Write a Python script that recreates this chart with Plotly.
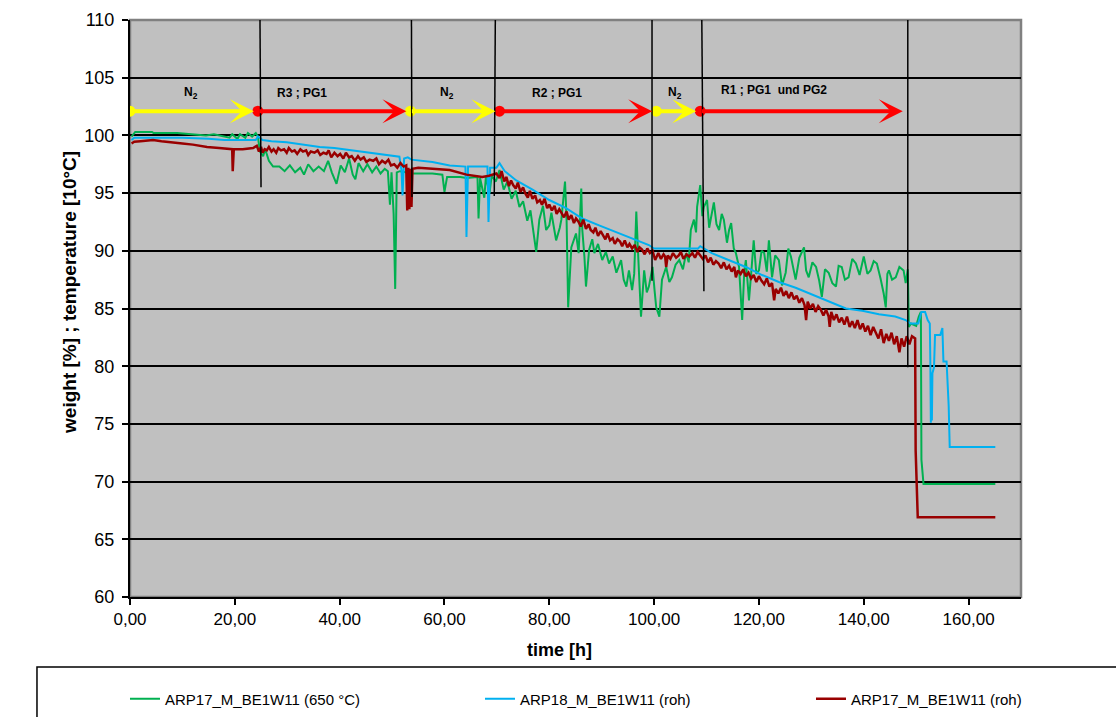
import plotly.graph_objects as go

# ---- measured series: time [h] and weight [%] ----
green_t = [0.3, 1.0, 4.2, 4.5, 9.0, 12.0, 14.5, 16.0, 18.0, 19.0, 19.5, 20.5, 21.0, 22.0, 22.5, 23.3, 24.0, 24.4,
           24.8, 25.4, 25.8, 26.5, 27.3, 28.5, 29.5, 30.5, 31.5, 32.5, 33.2, 34.0, 35.0, 36.0, 37.0, 37.8, 38.5,
           39.4, 40.2, 41.0, 41.8, 42.5, 43.0, 43.6, 44.5, 45.3, 46.2, 47.0, 47.8, 48.6, 49.2, 49.6, 49.9, 50.3,
           50.6, 50.9, 51.5, 53.0, 54.0, 57.7, 59.6, 60.0, 60.5, 63.0, 64.2, 66.3, 66.5, 66.8, 67.6, 67.9, 68.6,
           69.0, 69.8, 70.5, 71.3, 72.0, 72.8, 73.6, 74.3, 75.0, 75.8, 76.4, 77.0, 77.5, 78.1, 78.8, 79.4, 80.0,
           80.4, 81.3, 82.0, 82.3, 83.0, 83.3, 83.6, 84.2, 85.1, 85.6, 86.1, 86.3, 86.7, 87.0, 87.6, 88.2, 88.6,
           89.3, 90.1, 90.8, 91.4, 92.1, 92.8, 93.7, 94.2, 94.7, 95.2, 95.8, 96.2, 96.6, 97.0, 97.5, 98.1, 98.6,
           99.0, 99.7, 100.1, 100.4, 101.0, 101.5, 102.3, 102.9, 103.4, 104.1, 104.8, 105.5, 106.1, 106.6, 107.0,
           107.6, 108.0, 108.2, 108.8, 109.2, 109.5, 110.1, 110.5, 110.8, 111.4, 111.9, 112.4, 112.9, 113.3,
           113.9, 114.3, 114.7, 115.2, 115.6, 116.2, 116.8, 117.2, 117.5, 118.1, 118.6, 119.0, 119.5, 120.0,
           120.5, 121.0, 121.5, 121.9, 122.5, 123.1, 123.8, 124.4, 125.1, 125.6, 126.1, 126.6, 127.0, 127.7,
           128.6, 129.0, 129.5, 130.2, 130.9, 131.5, 132.0, 132.6, 133.3, 134.0, 134.7, 135.2, 135.8, 136.4,
           137.1, 137.8, 138.5, 139.2, 140.0, 140.7, 141.3, 141.9, 142.5, 143.2, 143.8, 144.2, 144.5, 144.8,
           145.4, 146.1, 146.8, 147.6, 148.0, 148.4, 148.6, 149.0, 150.0, 150.5, 150.9, 151.0, 151.4, 165.1]
green_v = [99.9, 100.3, 100.3, 100.2, 100.2, 100.1, 100.0, 100.1, 99.9, 99.8, 100.1, 99.7, 100.1, 99.8, 100.2, 99.9,
           100.2, 99.9, 98.6, 98.2, 98.8, 97.8, 97.3, 97.3, 96.9, 97.4, 96.8, 97.2, 96.6, 97.5, 96.9, 97.3, 96.9,
           97.8, 96.8, 95.8, 97.4, 96.8, 98.0, 96.6, 96.2, 97.6, 96.9, 97.5, 96.8, 97.3, 96.7, 97.1, 96.9, 94.0,
           96.8, 93.2, 86.7, 96.8, 96.9, 96.8, 96.7, 96.7, 96.6, 95.1, 96.4, 96.4, 96.3, 96.4, 92.8, 96.3, 94.6,
           96.4, 95.0, 96.5, 96.0, 97.0, 95.3, 96.0, 94.5, 95.2, 93.8, 94.3, 92.6, 93.5, 91.5, 89.9, 92.7, 93.9,
           91.8, 92.2, 93.3, 90.9, 92.0, 92.7, 96.0, 92.7, 85.1, 90.3, 91.5, 89.8, 95.4, 91.8, 89.5, 86.9, 90.1,
           91.0, 89.8, 90.6, 89.2, 89.9, 88.9, 89.5, 88.1, 89.2, 87.5, 86.9, 88.3, 86.6, 88.0, 93.4, 89.2, 84.3,
           88.3, 86.4, 86.9, 88.6, 86.5, 85.1, 84.3, 87.5, 88.6, 87.3, 87.7, 88.8, 89.2, 88.4, 89.8, 89.0, 91.8,
           92.7, 91.6, 93.8, 95.7, 93.0, 93.8, 94.4, 92.0, 92.7, 94.2, 92.3, 91.8, 93.2, 92.7, 90.7, 91.8, 92.4,
           90.2, 89.8, 88.6, 84.0, 88.2, 89.2, 85.7, 88.5, 90.9, 88.0, 88.3, 90.0, 89.8, 88.2, 90.9, 87.7, 89.6,
           89.2, 87.0, 88.1, 90.2, 89.5, 88.2, 87.5, 89.4, 90.3, 88.3, 87.7, 89.0, 88.6, 87.4, 86.0, 88.4, 88.1,
           87.2, 86.9, 88.7, 88.6, 87.5, 87.7, 89.3, 88.9, 87.9, 89.5, 88.0, 88.3, 89.1, 88.9, 87.6, 86.3, 85.1,
           88.0, 88.3, 87.5, 87.7, 88.6, 88.3, 87.2, 88.4, 83.4, 83.7, 83.5, 84.3, 84.7, 71.9, 69.8, 69.8]

blue_t = [0.3, 0.8, 5.0, 10.0, 15.0, 18.0, 24.0, 24.4, 25.3, 27.0, 29.9, 33.0, 36.2, 39.0, 42.5, 45.7, 49.0, 51.4,
          51.8, 52.0, 52.3, 53.0, 53.7, 55.5, 57.7, 61.0, 64.0, 64.2, 64.5, 67.2, 68.2, 68.4, 68.7, 69.9, 70.5,
          71.5, 73.7, 76.8, 80.0, 83.2, 86.3, 89.5, 92.8, 95.8, 99.0, 100.0, 108.4, 108.8, 109.5, 111.0, 114.2,
          117.5, 120.6, 123.8, 127.0, 130.1, 133.3, 136.6, 139.7, 142.9, 146.0, 148.0, 148.9, 150.4, 151.0,
          151.7, 152.2, 152.6, 152.7, 152.8, 152.9, 153.0, 153.1, 153.4, 153.6, 154.6, 155.0, 155.2, 155.8,
          156.2, 156.4, 165.1]
blue_v = [99.6, 99.8, 99.8, 99.8, 99.7, 99.6, 99.6, 99.9, 99.6, 99.5, 99.4, 99.2, 99.0, 98.9, 98.7, 98.5, 98.3, 98.15,
          97.0, 94.8, 98.0, 98.1, 97.9, 97.8, 97.7, 97.4, 97.3, 91.2, 97.3, 97.3, 97.3, 92.5, 97.2, 97.2, 97.6,
          96.9, 96.1, 95.3, 94.4, 93.7, 92.8, 92.2, 91.6, 91.1, 90.5, 90.2, 90.2, 90.4, 90.2, 89.8, 89.2, 88.6,
          87.9, 87.3, 86.8, 86.2, 85.6, 85.0, 84.8, 84.5, 84.3, 84.0, 83.7, 83.7, 84.7, 84.7, 84.0, 83.7, 80.5,
          75.1, 79.0, 75.3, 79.4, 79.9, 82.7, 82.7, 83.3, 80.4, 80.4, 76.6, 73.0, 73.0]

red_t = [0.3, 0.8, 2.0, 4.4, 6.0, 7.6, 10.0, 12.0, 14.7, 17.0, 19.0, 19.5, 19.6, 19.8, 21.5, 23.5,
         24.2, 24.6, 25.0, 25.3, 25.7, 26.1, 26.5, 27.0, 27.4, 27.9, 28.3, 28.8, 29.4, 29.9, 30.3, 30.9, 31.4,
         31.9, 32.5, 33.0, 33.6, 34.0, 34.5, 35.2, 35.8, 36.3, 36.9, 37.5, 37.9, 38.4, 39.0, 39.6, 40.1, 40.7,
         41.2, 41.8, 42.3, 42.9, 43.5, 44.0, 44.6, 45.1, 45.7, 46.4, 47.0, 47.5, 48.1, 48.7, 49.3, 49.8, 50.4,
         51.0, 51.6, 52.2, 52.7, 52.9, 53.1, 53.3, 53.5, 53.7, 53.9, 55.0, 57.7, 61.0, 64.2, 67.2, 68.5, 69.9,
         70.5, 70.9, 71.4, 71.8, 72.3, 72.7, 73.1, 73.6, 74.0, 74.5, 75.0, 75.4, 75.9, 76.3, 76.8, 77.3, 77.7,
         78.2, 78.6, 79.1, 79.6, 80.0, 80.5, 81.0, 81.4, 81.9, 82.3, 82.8, 83.3, 83.7, 84.2, 84.7, 85.1, 85.6,
         86.0, 86.5, 87.0, 87.5, 87.9, 88.4, 88.8, 89.3, 89.8, 90.2, 90.7, 91.1, 91.6, 92.1, 92.5, 93.0, 93.5,
         93.9, 94.4, 94.9, 95.3, 95.8, 96.3, 96.8, 97.2, 97.7, 98.2, 98.7, 99.2, 99.7, 100.2,
         100.8, 101.3, 101.8, 102.1, 102.3, 102.6, 103.1, 103.6, 104.2, 104.7, 105.1, 105.6, 106.2, 106.7,
         107.3, 107.8, 108.3, 108.8, 109.3, 109.8,
         110.3, 110.8, 111.3, 111.8, 112.3, 112.8, 113.3, 113.8, 114.3, 114.8, 115.3, 115.6, 116.0, 116.5,
         117.0, 117.5, 118.0, 118.5, 119.0, 119.5, 120.0, 120.5, 121.0, 121.5, 122.0, 122.5, 122.9, 123.2,
         123.7, 124.2, 124.7, 125.2, 125.7, 126.2, 126.7, 127.2, 127.7, 128.2, 128.7, 129.0, 129.3, 129.8,
         130.3, 130.8, 131.3, 131.8, 132.3, 132.8, 133.3, 133.5, 133.8, 134.3, 134.8, 135.3, 135.8, 136.3,
         136.8, 137.3, 137.8, 138.3, 138.8, 139.3, 139.8, 140.3, 140.8, 141.3, 141.8, 142.3, 142.8, 143.3,
         143.8, 144.3, 144.8, 145.3, 145.8, 146.3, 146.8, 147.2, 147.7, 148.2, 148.7, 149.2, 149.8, 149.9,
         150.3, 165.1]
red_v = [99.3, 99.45, 99.5, 99.6, 99.5, 99.4, 99.3, 99.2, 99.0, 98.9, 98.8, 98.8, 96.9, 98.8, 98.8, 98.9,
         99.1, 98.6, 99.0, 98.5, 98.8, 98.7, 99.0, 98.6, 98.8, 98.5, 98.9, 98.7, 98.8, 98.5, 98.9, 98.6, 98.7,
         98.4, 98.8, 98.6, 98.7, 98.3, 98.6, 98.5, 98.7, 98.3, 98.5, 98.4, 98.7, 98.1, 98.5, 98.2, 98.4, 98.0,
         98.5, 98.1, 98.2, 97.8, 98.2, 97.9, 98.1, 97.7, 97.9, 97.8, 98.0, 97.5, 97.8, 97.6, 97.9, 97.4, 97.5,
         97.2, 97.6, 97.3, 97.4, 93.5, 97.2, 93.6, 97.1, 93.8, 97.1, 97.2, 97.1, 97.0, 96.6, 96.4, 96.5, 96.7,
         96.3, 96.9, 96.0, 96.4, 95.6, 96.1, 95.7, 95.4, 95.9, 95.1, 95.5, 95.0, 94.6, 95.2, 94.5, 94.8, 94.2,
         94.4, 94.0, 94.5, 93.7, 94.0, 93.5, 93.9, 93.2, 93.6, 93.3, 92.9, 93.4, 92.7, 93.1, 92.4, 92.8, 92.5,
         92.1, 92.7, 91.9, 92.3, 91.8, 91.6, 92.0, 91.3, 91.7, 91.4, 91.0, 91.5, 90.9, 91.1, 90.6, 91.0, 90.8,
         90.4, 90.9, 90.3, 90.6, 90.2, 90.5, 89.9, 90.3, 90.1, 89.7, 90.2, 89.8, 90.0, 89.2,
         89.8, 89.3, 89.7, 89.5, 88.6, 89.6, 89.3, 89.8, 89.4, 89.6, 89.9, 89.3, 89.7, 89.5,
         89.8, 89.4, 89.9, 89.6, 89.3, 89.6,
         89.0, 89.4, 88.8, 89.1, 88.9, 88.5, 89.0, 88.4, 88.7, 88.2, 88.6, 87.7, 88.3, 88.0,
         88.4, 87.8, 88.1, 87.6, 87.9, 87.3, 87.8, 87.4, 87.1, 87.6, 86.9, 87.2, 85.7, 86.7,
         86.3, 86.8, 86.1, 86.5, 85.9, 86.4, 85.8, 86.1, 85.5, 85.9, 85.3, 84.0, 85.6, 85.0,
         85.4, 84.7, 85.2, 84.9, 84.4, 84.9, 84.3, 83.4, 84.7, 84.0, 84.5, 83.8, 84.2, 83.6,
         84.3, 83.4, 83.9, 83.3, 84.0, 83.2, 83.7, 83.0, 83.5, 82.7, 83.4, 82.9, 82.4, 83.2,
         82.0, 82.8, 82.2, 82.9, 81.9, 82.6, 81.2, 82.4, 81.7, 82.6, 81.9, 82.6, 82.4, 72.7,
         66.9, 66.9]

# ---- gas phases along the top ----
phase_start = [0.0, 24.4, 53.5, 70.5, 100.4, 108.8]
phase_end = [24.4, 53.5, 70.5, 100.4, 108.8, 148.2]
phase_color = ["#FFFF00", "#FF0000", "#FFFF00", "#FF0000", "#FFFF00", "#FF0000"]
phase_label = ["N<sub>2</sub>", "R3 ; PG1", "N<sub>2</sub>", "R2 ; PG1", "N<sub>2</sub>", "R1 ; PG1  und PG2"]
label_t = [11.7, 32.8, 60.5, 81.5, 104.0, 122.8]
label_v = [103.7, 103.7, 103.7, 103.7, 103.7, 103.9]
phase_level = 102.1

# phase change markers (top time, bottom time, bottom value)
switch_t_top = [24.8, 53.7, 69.7, 99.6, 109.1, 148.4]
switch_t_bot = [25.0, 53.8, 69.5, 99.6, 109.5, 148.4]
switch_v_bot = [95.5, 94.66, 94.75, 87.4, 86.5, 79.9]

x_ticks = [0, 20, 40, 60, 80, 100, 120, 140, 160]
x_tick_text = ["0,00", "20,00", "40,00", "60,00", "80,00", "100,00", "120,00", "140,00", "160,00"]
y_ticks = [60, 65, 70, 75, 80, 85, 90, 95, 100, 105, 110]

FONT = "Liberation Sans, Arial, sans-serif"

fig = go.Figure()

fig.add_trace(go.Scatter(x=green_t, y=green_v, mode="lines", name="ARP17_M_BE1W11 (650 °C)",
                         line=dict(color="#00B050", width=2), legend="legend"))
fig.add_trace(go.Scatter(x=blue_t, y=blue_v, mode="lines", name="ARP18_M_BE1W11 (roh)",
                         line=dict(color="#00B0F0", width=2), legend="legend2"))
fig.add_trace(go.Scatter(x=red_t, y=red_v, mode="lines", name="ARP17_M_BE1W11 (roh)",
                         line=dict(color="#990000", width=2.5), legend="legend3"))

# phase start dots
fig.add_trace(go.Scatter(x=phase_start, y=[phase_level] * len(phase_start), mode="markers",
                         marker=dict(color=phase_color, size=11, line=dict(width=0)),
                         showlegend=False, hoverinfo="skip"))

# phase arrows
for s, e, c in zip(phase_start, phase_end, phase_color):
    fig.add_annotation(x=e, y=phase_level, ax=s, ay=phase_level, xref="x", yref="y", axref="x", ayref="y",
                       text="", showarrow=True, arrowhead=3, arrowsize=1.0, arrowwidth=4, arrowcolor=c,
                       standoff=4)

for lab, t, v in zip(phase_label, label_t, label_v):
    fig.add_annotation(x=t, y=v, xref="x", yref="y", text="<b>" + lab + "</b>", showarrow=False,
                       font=dict(family=FONT, size=12, color="black"))

for t0, t1, v1 in zip(switch_t_top, switch_t_bot, switch_v_bot):
    fig.add_shape(type="line", xref="x", yref="y", x0=t0, y0=110, x1=t1, y1=v1,
                  line=dict(color="black", width=1.5), layer="above")

# axis titles
fig.add_annotation(x=0.4815, y=-0.0919, xref="paper", yref="paper", text="<b>time [h]</b>", showarrow=False,
                   font=dict(family=FONT, size=18, color="black"), xanchor="center", yanchor="middle")
fig.add_annotation(x=-0.0673, y=0.527, xref="paper", yref="paper", text="<b>weight [%] ; temperature [10°C]</b>",
                   showarrow=False, textangle=-90, font=dict(family=FONT, size=19, color="black"),
                   xanchor="center", yanchor="middle")

# plot area frame and legend frame
fig.add_shape(type="rect", xref="paper", yref="paper", x0=0, y0=0, x1=1, y1=1,
              line=dict(color="#808080", width=2.5), layer="below")
fig.add_shape(type="rect", xref="paper", yref="paper", x0=-0.1044, y0=-0.1213, x1=1.12, y1=-0.24,
              line=dict(color="black", width=1.5))

legend_common = dict(orientation="h", xref="container", yref="container", yanchor="middle", y=0.0251,
                     xanchor="left", bgcolor="rgba(0,0,0,0)", font=dict(family=FONT, size=15, color="black"))

fig.update_layout(
    width=1116, height=717,
    margin=dict(l=130, r=95, t=20, b=120, autoexpand=False),
    paper_bgcolor="white", plot_bgcolor="#C0C0C0",
    font=dict(family=FONT, color="black"),
    legend=dict(x=0.112, **legend_common),
    legend2=dict(x=0.4301, **legend_common),
    legend3=dict(x=0.7267, **legend_common),
    xaxis=dict(range=[0, 170], tickvals=x_ticks, ticktext=x_tick_text, showgrid=False, zeroline=False,
               showline=True, linecolor="black", linewidth=1.5, ticks="outside", ticklen=6, tickwidth=1.5,
               tickcolor="black", tickfont=dict(family=FONT, size=17, color="black")),
    yaxis=dict(range=[60, 110], tickvals=y_ticks, showgrid=True, gridcolor="black", gridwidth=1.8,
               zeroline=False, showline=True, linecolor="black", linewidth=2, ticks="outside", ticklen=6,
               tickwidth=1.5, tickcolor="black", ticklabelstandoff=4,
               tickfont=dict(family=FONT, size=18, color="black")),
)

fig.write_html("out.html")
